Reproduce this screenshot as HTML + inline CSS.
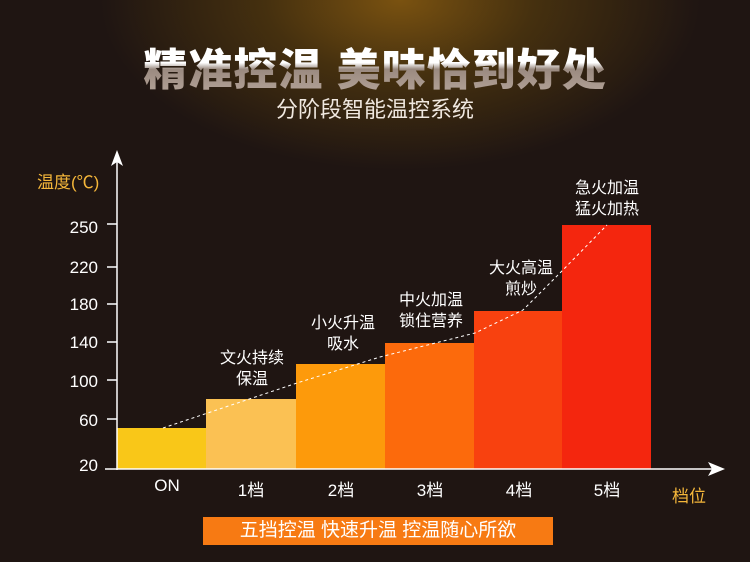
<!DOCTYPE html><html><head><meta charset="utf-8"><style>
body{margin:0}
#c{position:relative;width:750px;height:562px;overflow:hidden;background:radial-gradient(ellipse 300px 170px at 400px 0px,#7a5210 0%,#45300f 45%,rgba(30,20,17,0) 100%),#1f1512;font-family:"Liberation Sans","Noto Sans CJK SC",sans-serif}
.t{position:absolute;white-space:nowrap}
.title{left:0;width:750px;top:34px;text-align:center;font-size:44px;font-weight:900;letter-spacing:1px;background:linear-gradient(#fff 0%,#fff 45%,#9a8a80 55%,#b8a79c 100%);-webkit-background-clip:text;background-clip:text;color:transparent}
.sub{left:0;width:750px;top:92px;text-align:center;font-size:22px;color:#f0e8e0}
.bar{position:absolute;bottom:93px}
.lab{position:absolute;color:#fff;font-size:16px;text-align:center;line-height:21px;width:100px}
.yl{position:absolute;color:#fff;font-size:17px;right:652px}
.xl{position:absolute;color:#fff;font-size:17px;top:476px;width:90px;text-align:center}
</style></head><body><div id="c">
<div class="t title">精准控温 美味恰到好处</div>
<div class="t sub">分阶段智能温控系统</div>
<div class="t" style="left:37px;top:168px;color:#f5b73a;font-size:17px">温度(℃)</div>
<div class="bar" style="left:117px;width:89px;top:428px;background:#f9c718"></div>
<div class="bar" style="left:206px;width:90px;top:399px;background:#fbc153"></div>
<div class="bar" style="left:296px;width:89px;top:364px;background:#fd9a0b"></div>
<div class="bar" style="left:385px;width:89px;top:343px;background:#fc6a0c"></div>
<div class="bar" style="left:474px;width:88px;top:311px;background:#f8410f"></div>
<div class="bar" style="left:562px;width:89px;top:225px;background:#f4260e"></div>
<svg style="position:absolute;left:0;top:0" width="750" height="562">
<polyline points="163,428 297,383 380,357 475,333 523,310 560,273 607,225" fill="none" stroke="#fff" stroke-width="1" stroke-dasharray="3,3"/>
<line x1="117" y1="160" x2="117" y2="470" stroke="#fff" stroke-width="1.5"/>
<polygon points="117,150 111,166 117,162 123,166" fill="#fff"/>
<line x1="105" y1="469" x2="715" y2="469" stroke="#fff" stroke-width="1.5"/>
<polygon points="725,469 708,462 712,469 708,476" fill="#fff"/>
<g stroke="#fff" stroke-width="1.5"><line x1="107" y1="224" x2="117" y2="224"/><line x1="107" y1="267" x2="117" y2="267"/><line x1="107" y1="304" x2="117" y2="304"/><line x1="107" y1="342" x2="117" y2="342"/><line x1="107" y1="380" x2="117" y2="380"/><line x1="107" y1="419" x2="117" y2="419"/></g>
</svg>
<div class="yl" style="top:218px">250</div><div class="yl" style="top:258px">220</div><div class="yl" style="top:295px">180</div><div class="yl" style="top:333px">140</div><div class="yl" style="top:372px">100</div><div class="yl" style="top:411px">60</div><div class="yl" style="top:456px">20</div>
<div class="xl" style="left:122px">ON</div><div class="xl" style="left:206px">1档</div><div class="xl" style="left:296px">2档</div><div class="xl" style="left:385px">3档</div><div class="xl" style="left:474px">4档</div><div class="xl" style="left:562px">5档</div>
<div class="t" style="left:672px;top:482px;color:#f5b73a;font-size:17px">档位</div>
<div class="lab" style="left:202px;top:348px">文火持续<br>保温</div>
<div class="lab" style="left:293px;top:313px">小火升温<br>吸水</div>
<div class="lab" style="left:381px;top:290px">中火加温<br>锁住营养</div>
<div class="lab" style="left:471px;top:258px">大火高温<br>煎炒</div>
<div class="lab" style="left:557px;top:178px">急火加温<br>猛火加热</div>
<div class="t" style="left:203px;top:517px;width:350px;height:28px;background:#f77a13;color:#fff;font-size:19px;line-height:28px;text-align:center">五挡控温 快速升温 控温随心所欲</div>
</div></body></html>
